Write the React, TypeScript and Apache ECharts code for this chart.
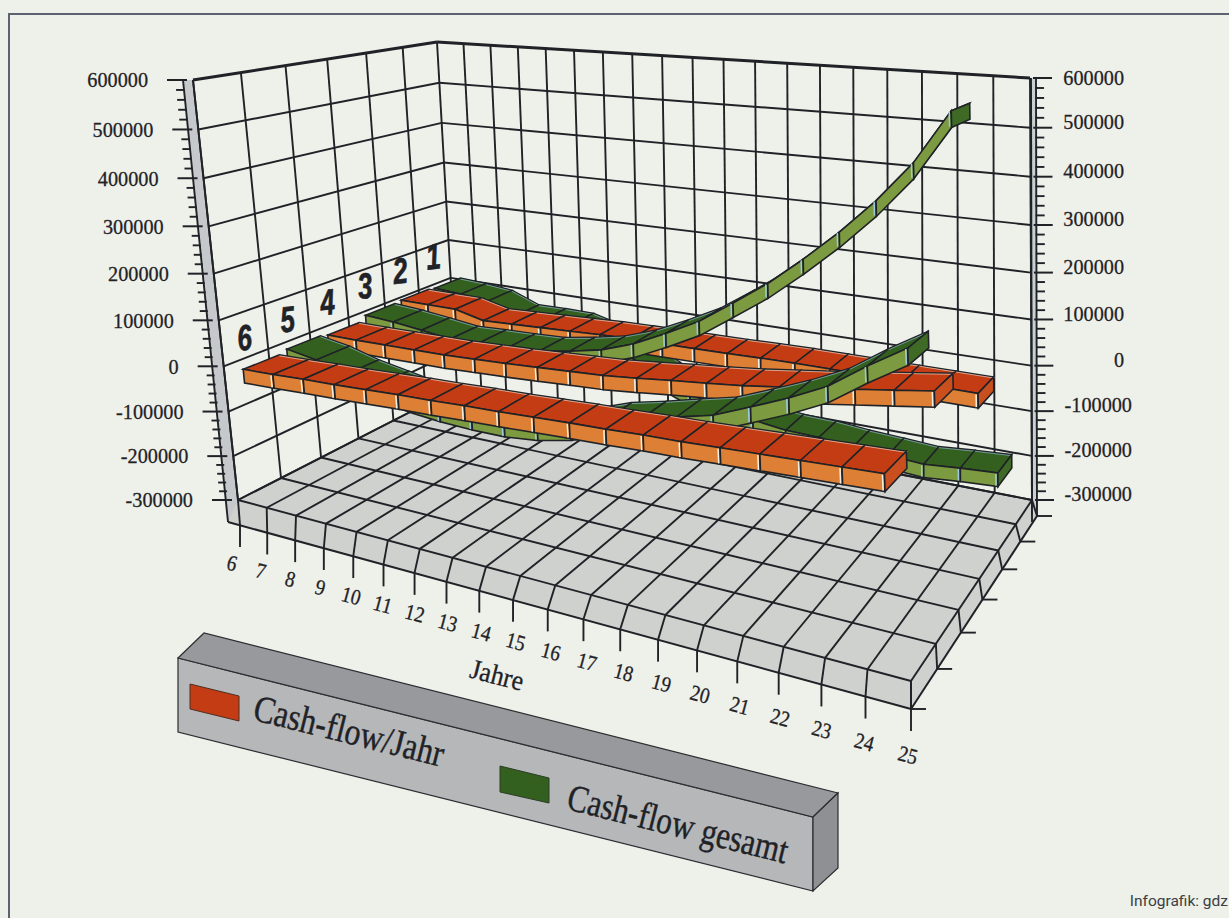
import React, { useEffect, useRef } from "react";
import * as echarts from "echarts";

const yearLabels = ["6","7","8","9","10","11","12","13","14","15","16","17","18","19","20","21","22","23","24","25"];
const rowLabels = ["1","2","3","4","5","6"];
const valueTicks = [600000,500000,400000,300000,200000,100000,0,-100000,-200000,-300000];

const row1Gesamt = [7000,2500,-5000,-32000,-31000,-32000,-50000,-85000,-120000,-150000,-170000,-185000,-195000,-197000,-204000,-208000,-213000,-206000,-201000];
const row2Jahr = [10500,10000,9800,-7000,-4000,-1000,2000,5400,7000,8000,9000,10000,12000,13000,13000,13000,13000,13000,13000];
const row3Gesamt = [8000,3000,-5000,-14000,-11000,-9000,-6000,6000,21000,46000,80000,117000,166000,216000,274000,336000,404000,482000,582000];
const row4Jahr = [-3000,-3000,-2000,-1000,0,3000,6000,10000,14000,18000,25000,33000,40000,48000,58000,68000,79000,90000,101000];
const row5Gesamt = [2000,-10000,-29000,-42000,-55000,-62000,-65000,-65000,-58000,-43000,-18000,-2000,16000,33000,62000,92000,126000,174000,217000];
const row6Jahr = [-4000,-2000,1000,3000,6000,9000,11000,14000,16000,19000,22000,24000,27000,29000,32000,35000,38000,41000,44000];

const JAHR = "Cash-flow/Jahr";
const GESAMT = "Cash-flow gesamt";

const RED = { top: "#c43c14", front: "#dd7f35", end: "#c9501e", light: "#f6efe0" };
const GREEN = { top: "#34601f", front: "#7c9a40", end: "#3f6a26", light: "#9ccbe0" };
const INK = "#1f2226";
const PAPER = "#eef0ea";
const SLAB = "#ced1cd";

const W = 1229, H = 918;
const VMIN = -300000, VMAX = 600000, THICK = 30000;

type P = [number, number];
function homography(p0: P, p1: P, p2: P, p3: P) {
  const dx1 = p1[0]-p2[0], dx2 = p3[0]-p2[0], sx = p0[0]-p1[0]+p2[0]-p3[0];
  const dy1 = p1[1]-p2[1], dy2 = p3[1]-p2[1], sy = p0[1]-p1[1]+p2[1]-p3[1];
  const den = dx1*dy2-dx2*dy1;
  const g = (sx*dy2-dx2*sy)/den, h = (dx1*sy-sx*dy1)/den;
  const a = p1[0]-p0[0]+g*p1[0], b = p3[0]-p0[0]+h*p3[0], c = p0[0];
  const d = p1[1]-p0[1]+g*p1[1], e = p3[1]-p0[1]+h*p3[1], f = p0[1];
  return (s: number, t: number): P => {
    const w = g*s+h*t+1;
    return [(a*s+b*t+c)/w, (d*s+e*t+f)/w];
  };
}
const floorH = homography([238,500],[911,681],[1032,500],[457,388]);
const ceilH = homography([193,80],[890,135],[1030,78],[437,42]);
const slabH = homography([240,525],[911,709],[1037,516],[459,410]);

const warpU = (u: number, z: number) => { const s = u/19; return s + 0.06*(1-z/6)*s*(1-s); };

function project(u: number, z: number, v: number): P {
  const s = warpU(u, z);
  const a = floorH(s, z/6), b = ceilH(s, z/6);
  const l = (v-VMIN)/(VMAX-VMIN);
  const t = l - 0.0675*l*(1-l);
  return [a[0]+(b[0]-a[0])*t, a[1]+(b[1]-a[1])*t];
}
const slabPt = (u: number, z: number) => slabH(warpU(u, z), z/6);

function line(a: P, b: P, width = 1.9, stroke = INK, z = 1): any {
  return { type: "line", z, shape: { x1: a[0], y1: a[1], x2: b[0], y2: b[1] }, style: { stroke, lineWidth: width }, silent: true };
}
function poly(points: P[], fill: string, z = 0, stroke = "none", lineWidth = 0): any {
  return { type: "polygon", z, shape: { points }, style: { fill, stroke, lineWidth }, silent: true };
}
function label(text: string, x: number, y: number, o: any = {}): any {
  const { rotation, scaleX, z, ...s } = o;
  return {
    type: "text", x, y, z: z ?? 3, rotation: rotation ?? 0, scaleX: scaleX ?? 1, silent: true,
    style: { text, fill: INK, stroke: INK, lineWidth: 0.3, fontFamily: "Liberation Serif", fontSize: 22, textAlign: "center", textVerticalAlign: "middle", verticalAlign: "middle", ...s },
  };
}

function frame(): any[] {
  const out: any[] = [];
  out.push({ type: "rect", z: -1, shape: { x: 9, y: 14, width: W+20, height: H+20 }, style: { fill: PAPER, stroke: "#5d6270", lineWidth: 2 }, silent: true });

  out.push(poly([[183,80],[193,80],[238,500],[240,525],[228,522]], "#c6c9cc", 0));
  out.push(line([183,80],[228,522]));
  out.push(line([193,80],[238,500]));
  out.push(poly([[1031,78],[1036,78],[1037,516],[1032,500]], "#c9d0d2", 0));
  out.push(line([1031,78],[1032,522]));
  out.push(line([1036,78],[1037,516]));

  out.push(poly([floorH(0,0), floorH(1,0), floorH(1,1), floorH(0,1)], SLAB, 0));
  out.push(poly([[228,522], slabPt(19,0), floorH(1,0), floorH(0,0)], SLAB, 0));
  out.push(poly([slabPt(19,0), slabPt(19,6), floorH(1,1), floorH(1,0)], SLAB, 0));

  for (let u = 0; u <= 19; u++) {
    out.push(line(project(u,6,VMIN), project(u,6,VMAX)));
    out.push(line(project(u,0,VMIN), project(u,6,VMIN)));
    const top = project(u,0,VMIN), bot = slabPt(u,0);
    out.push(line(top, bot));
    out.push(line(bot, [bot[0], bot[1]+22]));
    const tx = top[0]-6 + (u/19)*3, ty = bot[1]+38+8*u/19;
    out.push(label(yearLabels[u], tx, ty, { fontSize: 22, scaleX: 0.88, rotation: -0.26 }));
  }
  for (let z = 0; z <= 6; z++) {
    if (z < 6) out.push(line(project(0,z,VMIN), project(0,z,VMAX)));
    out.push(line(project(0,z,VMIN), project(19,z,VMIN)));
    const top = project(19,z,VMIN), bot = slabPt(19,z);
    out.push(line(top, bot));
    out.push(line(bot, [bot[0]+15, bot[1]]));
  }
  out.push(line([228,522], slabPt(19,0), 2));
  out.push(line(slabPt(19,0), slabPt(19,6), 2));

  valueTicks.forEach((v, i) => {
    out.push(line(project(0,0,v), project(0,6,v), v === VMAX ? 3 : 1.9));
    out.push(line(project(0,6,v), project(19,6,v), v === VMAX ? 3 : 1.9));
    const lp = project(0,0,v), rp = project(19,6,v);
    const lx = lp[0]-10, rx = rp[0]+5;
    out.push(line([lx-16, lp[1]], [lx+4, lp[1]], 2));
    out.push(line([rx-2, rp[1]], [rx+17, rp[1]], 2));
    out.push(label(String(v), lx-35, lp[1], { textAlign: "right", scaleX: 0.92 }));
    out.push(label(String(v), v < 0 ? 1132 : 1124, rp[1]-6*(v===VMAX?0:1), { textAlign: "right", scaleX: 0.92 }));
    if (i < valueTicks.length-1) {
      for (let m = 1; m < 5; m++) {
        const mv = v - m*20000;
        const a = project(0,0,mv), b = project(19,6,mv);
        out.push(line([a[0]-18, a[1]], [a[0]-10, a[1]], 1.9));
        out.push(line([b[0]+5, b[1]], [b[0]+14, b[1]], 1.9));
      }
    }
  });

  rowLabels.forEach((r, i) => {
    const z = 5.5 - i;
    const p = project(0, z, 70000 - (i*27000)/5);
    out.push(label(r, p[0], p[1], { fontFamily: "Liberation Sans", fontWeight: "bold", fontStyle: "italic", fontSize: 36, scaleX: 0.72, rotation: 0.1, lineWidth: 0.7 }));
  });

  out.push(label("Jahre", 497, 675, { fontSize: 28, rotation: -0.25, scaleX: 0.92 }));

  out.push(poly([[178,658],[813,817],[813,891],[178,732]], "#b5b7b9", 2, "#2b2d30", 1.2));
  out.push(poly([[178,658],[204,633],[838,793],[813,817]], "#97999c", 2, "#2b2d30", 1.2));
  out.push(poly([[813,817],[838,793],[838,868],[813,891]], "#8e9093", 2, "#2b2d30", 1.2));
  out.push(poly([[190,684],[239,696],[239,721],[190,709]], RED.top, 3, "#4e2f22", 1));
  out.push(poly([[500,766],[549,778],[549,803],[500,792]], GREEN.top, 3, "#2a3d24", 1));
  out.push(label(JAHR, 349, 731, { fontSize: 38, rotation: -0.245, scaleX: 0.84, z: 4, lineWidth: 0.4 }));
  out.push(label(GESAMT, 678, 824, { fontSize: 38, rotation: -0.245, scaleX: 0.82, z: 4, lineWidth: 0.4 }));

  out.push(label("Infografik: gdz", 1228, 901, { textAlign: "right", fontFamily: "Roboto", fontSize: 15.5, fill: "#3c3f42", stroke: "none", lineWidth: 0 }));
  return out;
}

const Z_FRONT = 0.1, Z_BACK = 0.92;

function renderTop(row: number, col: any) {
  return (_: any, api: any) => {
    const i = api.value(0), v0 = api.value(1), v1 = api.value(2);
    const base = 6 - row;
    const u0 = i + 0.5, u1 = i + 1.5;
    const zf = base + Z_FRONT, zb = base + Z_BACK;
    const pts: P[] = [project(u0,zf,v0), project(u1,zf,v1), project(u1,zb,v1), project(u0,zb,v0)].map((p) => api.coord(p));
    return {
      type: "group",
      children: [
        { type: "polygon", shape: { points: pts }, style: { fill: col.top, stroke: INK, lineWidth: 1.5 } },
        { type: "line", shape: { x1: pts[1][0]+1, y1: pts[1][1], x2: pts[2][0]+1, y2: pts[2][1] }, style: { stroke: col.light, lineWidth: 1, opacity: 0.75 } },
        { type: "line", shape: { x1: pts[3][0], y1: pts[3][1]+1, x2: pts[2][0], y2: pts[2][1]+1 }, style: { stroke: col.light, lineWidth: 1, opacity: 0.6 } },
      ],
    };
  };
}
function renderFront(row: number, col: any, last: number) {
  return (_: any, api: any) => {
    const i = api.value(0), v0 = api.value(1), v1 = api.value(2);
    const base = 6 - row;
    const u0 = i + 0.5, u1 = i + 1.5;
    const zf = base + Z_FRONT, zb = base + Z_BACK;
    const pts: P[] = [project(u0,zf,v0), project(u1,zf,v1), project(u1,zf,v1-THICK), project(u0,zf,v0-THICK)].map((p) => api.coord(p));
    const children: any[] = [
      { type: "polygon", shape: { points: pts }, style: { fill: col.front, stroke: INK, lineWidth: 1.6 } },
      { type: "line", shape: { x1: pts[1][0]-2, y1: pts[1][1]+1, x2: pts[2][0]-2, y2: pts[2][1]-1 }, style: { stroke: col.light, lineWidth: 1.5 } },
    ];
    if (i === last) {
      const cap: P[] = [project(u1,zf,v1), project(u1,zb,v1), project(u1,zb,v1-THICK), project(u1,zf,v1-THICK)].map((p) => api.coord(p));
      children.push({ type: "polygon", shape: { points: cap }, style: { fill: col.end, stroke: INK, lineWidth: 1.6 } });
    }
    return { type: "group", children };
  };
}

const rows: { row: number; name: string; values: number[]; col: any }[] = [
  { row: 1, name: GESAMT, values: row1Gesamt, col: GREEN },
  { row: 2, name: JAHR, values: row2Jahr, col: RED },
  { row: 3, name: GESAMT, values: row3Gesamt, col: GREEN },
  { row: 4, name: JAHR, values: row4Jahr, col: RED },
  { row: 5, name: GESAMT, values: row5Gesamt, col: GREEN },
  { row: 6, name: JAHR, values: row6Jahr, col: RED },
];

function buildSeries(): any[] {
  const out: any[] = [];
  rows.forEach((r, k) => {
    const data = r.values.slice(0, -1).map((v, i) => [i, v, r.values[i+1]]);
    const common = { type: "custom", coordinateSystem: "cartesian2d", name: r.name, data, clip: false, silent: true, encode: { x: 0, y: 1 } };
    out.push({ ...common, z: 10 + k*2, renderItem: renderTop(r.row, r.col) });
    out.push({ ...common, z: 11 + k*2, renderItem: renderFront(r.row, r.col, r.values.length-2) });
  });
  return out;
}

export default function App() {
  const ref = useRef<HTMLDivElement>(null);
  useEffect(() => {
    document.body.style.margin = "0";
    document.body.style.background = PAPER;
    const chart = echarts.init(ref.current!, null, { renderer: "svg" });
    chart.setOption({
      animation: false,
      backgroundColor: PAPER,
      grid: { left: 0, right: 0, top: 0, bottom: 0 },
      xAxis: { type: "value", min: 0, max: W, show: false },
      yAxis: { type: "value", min: 0, max: H, inverse: true, show: false },
      graphic: { elements: frame() },
      series: buildSeries(),
    });
    return () => chart.dispose();
  }, []);
  return <div ref={ref} style={{ width: W, height: H, position: "absolute", left: 0, top: 0 }} />;
}
